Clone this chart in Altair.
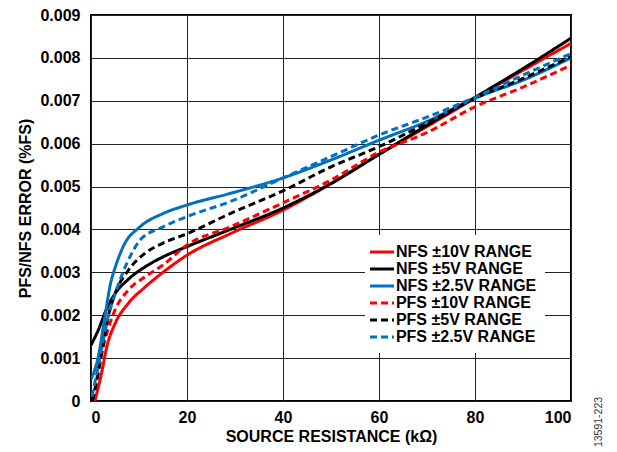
import altair as alt
import pandas as pd

SERIES = ["NFS ±10V RANGE", "NFS ±5V RANGE", "NFS ±2.5V RANGE",
          "PFS ±10V RANGE", "PFS ±5V RANGE", "PFS ±2.5V RANGE"]
COLORS = ["#ff0000", "#000000", "#0070c0", "#ff0000", "#000000", "#0070c0"]
DASHES = [[1, 0], [1, 0], [1, 0], [7, 4], [7, 4], [7, 4]]

# NFS ±10V (red solid)
nfs10_x = [0.8, 2.2, 3.3, 5, 7.8, 11.3, 15, 20, 29, 40, 50, 60, 70, 80, 90, 100]
nfs10_y = [0.0, 0.00065, 0.00127, 0.0018, 0.00228, 0.00266, 0.003, 0.0034, 0.0039,
           0.00445, 0.00507, 0.00575, 0.0064, 0.00706, 0.00771, 0.00834]
# NFS ±5V (black solid)
nfs5_x = [0, 1.5, 3.3, 5, 7.8, 11.3, 15, 20, 29, 40, 50, 60, 70, 80, 90, 100]
nfs5_y = [0.0013, 0.00165, 0.00216, 0.0025, 0.00284, 0.00313, 0.00336, 0.0036, 0.004,
          0.0045, 0.00507, 0.00575, 0.00643, 0.00708, 0.00775, 0.00846]
# NFS ±2.5V (blue solid)
nfs25_x = [0, 1.5, 2.9, 4, 5.3, 6.7, 10.2, 15, 20, 29, 40, 50, 60, 70, 80, 90, 100]
nfs25_y = [0.0005, 0.00103, 0.00197, 0.0027, 0.0032, 0.0036, 0.00406, 0.00437, 0.00457,
           0.00484, 0.0052, 0.00562, 0.00608, 0.00652, 0.00706, 0.00748, 0.008]
# PFS ±10V (red dashed)
pfs10_x = [0.5, 1.9, 3.3, 5, 7.8, 11.3, 15, 20, 29, 40, 50, 60, 70, 80, 90, 100]
pfs10_y = [0.0, 0.00096, 0.00158, 0.00212, 0.00259, 0.0029, 0.00317, 0.00364, 0.00406,
           0.00462, 0.00515, 0.0058, 0.00626, 0.00686, 0.00732, 0.00783]
# PFS ±5V (black dashed)
pfs5_x = [0.3, 1.5, 2.6, 3.6, 5, 7.8, 11.3, 15, 20, 29, 40, 50, 60, 70, 80, 90, 100]
pfs5_y = [0.0, 0.00065, 0.00134, 0.00197, 0.0025, 0.00305, 0.00345, 0.00368, 0.0039,
          0.00437, 0.0049, 0.00546, 0.00593, 0.00648, 0.00706, 0.00752, 0.00803]
# PFS ±2.5V (blue dashed)
pfs25_x = [0.2, 1.9, 3.6, 5.3, 8.1, 10.2, 15, 20, 29, 40, 50, 60, 70, 80, 90, 100]
pfs25_y = [0.0001, 0.00103, 0.00197, 0.00259, 0.00336, 0.00375, 0.00406, 0.0043, 0.00465,
           0.0052, 0.0057, 0.0062, 0.00662, 0.00708, 0.0076, 0.0081]

X_TICKS = [0, 20, 40, 60, 80, 100]
Y_TICKS = [0, 0.001, 0.002, 0.003, 0.004, 0.005, 0.006, 0.007, 0.008, 0.009]

rows = []
for name, xs, ys in zip(SERIES,
                        [nfs10_x, nfs5_x, nfs25_x, pfs10_x, pfs5_x, pfs25_x],
                        [nfs10_y, nfs5_y, nfs25_y, pfs10_y, pfs5_y, pfs25_y]):
    for i, (a, b) in enumerate(zip(xs, ys)):
        rows.append({"series": name, "x": a, "y": b, "order": i})
df = pd.DataFrame(rows)

FONT = "Liberation Sans"

lines = alt.Chart(df).mark_line(strokeWidth=3, interpolate="monotone", clip=True).encode(
    x=alt.X("x:Q", scale=alt.Scale(domain=[0, 100], nice=False),
            axis=alt.Axis(values=X_TICKS, title="SOURCE RESISTANCE (kΩ)", grid=True,
                          ticks=False, labelPadding=8, titlePadding=3)),
    y=alt.Y("y:Q", scale=alt.Scale(domain=[0, 0.009], nice=False),
            axis=alt.Axis(values=Y_TICKS, title="PFS/NFS ERROR (%FS)", grid=True,
                          ticks=False, labelPadding=11, titlePadding=6,
                          labelExpr="datum.value == 0 ? '0' : format(datum.value, '.3f')")),
    color=alt.Color("series:N", scale=alt.Scale(domain=SERIES, range=COLORS),
                    sort=SERIES, legend=alt.Legend(title=None)),
    strokeDash=alt.StrokeDash("series:N", scale=alt.Scale(domain=SERIES, range=DASHES),
                              sort=SERIES, legend=alt.Legend(title=None)),
    order="order:Q",
)

note = alt.Chart(pd.DataFrame({"t": ["13591-223"]})).mark_text(
    angle=270, fontSize=10.5, font=FONT, color="#333333", align="center", baseline="middle"
).encode(text="t:N", x=alt.value(508), y=alt.value(407))

chart = alt.layer(lines, note).properties(
    width=480, height=386,
    autosize=alt.AutoSizeParams(type="none"),
    padding={"left": 91, "top": 15, "right": 46, "bottom": 51},
).configure_view(
    stroke="#000000", strokeWidth=2
).configure_axis(
    domain=False, gridColor="#222222", gridWidth=1, gridOpacity=1,
    labelFont=FONT, labelFontSize=16, labelFontWeight="bold", labelColor="#000000",
    titleFont=FONT, titleFontSize=16, titleFontWeight="bold", titleColor="#000000",
).configure_legend(
    orient="none", legendX=274, legendY=220, fillColor="#ffffff", padding=8,
    labelFont=FONT, labelFontSize=16, labelFontWeight="bold", labelColor="#000000",
    symbolType="M-1.7,0H1.7", symbolSize=200, symbolStrokeWidth=3, rowPadding=0,
    labelOffset=4.9, labelLimit=300,
)

chart.save("out.html", embed_options={"renderer": "svg", "actions": False})
